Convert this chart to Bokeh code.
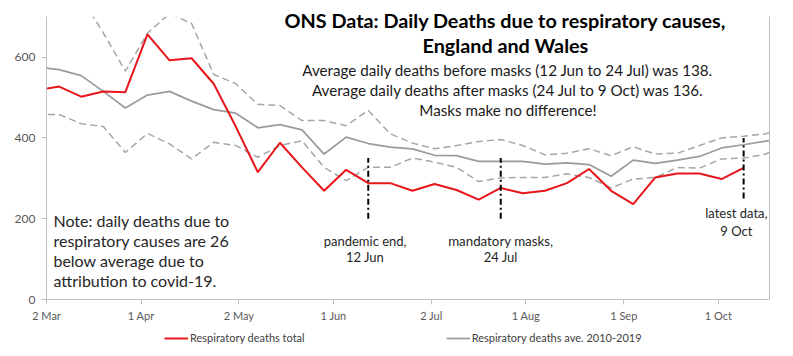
import pandas as pd
from bokeh.plotting import figure
from bokeh.layouts import column
from bokeh.models import (ColumnDataSource, FixedTicker, Label, Legend, LegendItem, Range1d,
                          BoxAnnotation, LinearAxis)
from bokeh.embed import file_html
from bokeh.resources import INLINE

# ---- data (weekly, week ending Fridays, 2020) ----
week_ending = ["2020-02-28", "2020-03-06", "2020-03-13", "2020-03-20", "2020-03-27",
               "2020-04-03", "2020-04-10", "2020-04-17", "2020-04-24", "2020-05-01",
               "2020-05-08", "2020-05-15", "2020-05-22", "2020-05-29", "2020-06-05",
               "2020-06-12", "2020-06-19", "2020-06-26", "2020-07-03", "2020-07-10",
               "2020-07-17", "2020-07-24", "2020-07-31", "2020-08-07", "2020-08-14",
               "2020-08-21", "2020-08-28", "2020-09-04", "2020-09-11", "2020-09-18",
               "2020-09-25", "2020-10-02", "2020-10-09", "2020-10-16", "2020-10-23"]
resp_total = [518, 527, 502, 515, 513, 656, 592, 597, 534, 428,
              315, 388, 327, 269, 321, 288, 288, 269, 286, 271,
              247, 276, 263, 269, 288, 323, 269, 236, 302, 312,
              312, 298, 326, None, None]
resp_ave = [575, 569, 554, 515, 474, 506, 515, 491, 470, 461,
            425, 433, 420, 360, 402, 386, 377, 373, 357, 356,
            342, 342, 342, 335, 338, 334, 305, 345, 337, 345,
            354, 375, 383, 392, 400]
resp_upper = [790, 780, 747, 660, 565, 659, 708, 683, 557, 534,
              483, 480, 443, 443, 430, 468, 410, 387, 373, 381,
              391, 396, 381, 358, 362, 373, 356, 378, 360, 362,
              381, 400, 404, 410, 432]
resp_lower = [458, 458, 435, 428, 364, 411, 385, 348, 389, 381,
              352, 381, 393, 327, 294, 327, 327, 350, 340, 327,
              292, 301, 302, 302, 311, 302, 276, 298, 302, 327,
              325, 348, 350, 360, 385]

tick_dates = ["2020-03-02", "2020-04-01", "2020-05-02", "2020-06-01", "2020-07-02",
              "2020-08-01", "2020-09-01", "2020-10-01"]
tick_labels = ["2 Mar", "1 Apr", "2 May", "1 Jun", "2 Jul", "1 Aug", "1 Sep", "1 Oct"]
y_ticks = [0, 200, 400, 600]
Y_MAX = 700

event_dates = ["2020-06-12", "2020-07-24", "2020-10-09"]
event_top = [350, 350, 400]
event_bottom = [200, 200, 250]

series_names = ["Respiratory deaths total", "Respiratory deaths ave. 2010-2019"]
RED = "#e8161b"
GREY = "#9b9b9b"

origin = pd.Timestamp("2020-03-02")
def day(d):
    return (pd.Timestamp(d) - origin).days

X_END = 229.2
x = [day(d) for d in week_ending]
src = ColumnDataSource(dict(x=x,
                            total=[float("nan") if v is None else v for v in resp_total],
                            ave=resp_ave, upper=resp_upper, lower=resp_lower))

FONT = "Lato"
# frame reaches the canvas top so the title is not clipped; axis lines stop at Y_MAX
p = figure(width=793, height=330, output_backend="svg", toolbar_location=None,
           x_range=Range1d(0, X_END), y_range=Range1d(0, 740),
           min_border_left=46, min_border_right=24, min_border_top=0, min_border_bottom=31)
p.outline_line_color = None
p.grid.visible = False
p.background_fill_color = "white"

p.line("x", "upper", source=src, line_color="#a6a6a6", line_width=1.5, line_dash="7 4")
p.line("x", "lower", source=src, line_color="#a6a6a6", line_width=1.5, line_dash="7 4")
p.line("x", "ave", source=src, line_color=GREY, line_width=1.75)
p.line("x", "total", source=src, line_color=RED, line_width=2)

ev = ColumnDataSource(dict(x=[day(d) for d in event_dates], y0=event_bottom, y1=event_top))
p.segment("x", "y0", "x", "y1", source=ev, line_color="black", line_width=2, line_dash="6 3 2 3")

# mask anything above the plot area top (Y_MAX)
p.add_layout(BoxAnnotation(bottom=Y_MAX, fill_color="white", fill_alpha=1, line_color=None))

# axes
xa = p.xaxis[0]
xa.ticker = FixedTicker(ticks=[day(d) for d in tick_dates])
xa.major_label_overrides = {day(d): l for d, l in zip(tick_dates, tick_labels)}
xa.minor_tick_line_color = None
xa.major_tick_out = 5
xa.major_tick_in = 0
xa.axis_line_color = "#bfbfbf"
xa.major_tick_line_color = "#bfbfbf"
xa.major_label_text_font = FONT
xa.major_label_text_font_size = "11px"
xa.major_label_text_color = "#595959"
xa.major_label_standoff = 4

ya = p.yaxis[0]
ya.ticker = FixedTicker(ticks=y_ticks)
ya.bounds = (0, Y_MAX)
ya.minor_tick_line_color = None
ya.major_tick_out = 5
ya.major_tick_in = 0
ya.axis_line_color = "#bfbfbf"
ya.major_tick_line_color = "#bfbfbf"
ya.major_label_text_font = FONT
ya.major_label_text_font_size = "12px"
ya.major_label_text_color = "#595959"
ya.major_label_standoff = 6

ra = LinearAxis(bounds=(0, Y_MAX), ticker=FixedTicker(ticks=[]), axis_line_color="#bfbfbf",
                major_tick_line_color=None, minor_tick_line_color=None,
                major_label_text_font_size="0px", major_label_standoff=0,
                major_tick_out=0, major_tick_in=0)
p.add_layout(ra, "right")

def lab(xv, yv, text, size, bold=False, align="center", color="#1a1a1a"):
    p.add_layout(Label(x=xv, y=yv, text=text, text_font=FONT, text_font_size=size,
                       text_font_style="bold" if bold else "normal", text_align=align,
                       text_baseline="alphabetic", text_color=color))

# title and subtitles
lab(145.5, 692, "ONS Data: Daily Deaths due to respiratory causes,", "19.8px", bold=True, color="black")
lab(145.5, 630, "England and Wales", "19.8px", bold=True, color="black")
lab(146.3, 568, "Average daily deaths before masks (12 Jun to 24 Jul) was 138.", "15.2px")
lab(146.3, 518, "Average daily deaths after masks (24 Jul to 9 Oct) was 136.", "15.2px")
lab(146.3, 468, "Masks make no difference!", "15.2px")

# note
for i, t in enumerate(["Note: daily deaths due to", "respiratory causes are 26",
                       "below average due to", "attribution to covid-19."]):
    lab(2.2, 196 - i * 49.5, t, "16px", align="left", color="#262626")

# event labels
lab(day("2020-06-12") - 1, 146, "pandemic end,", "13px", color="#262626")
lab(day("2020-06-12") - 1, 105, "12 Jun", "13px", color="#262626")
lab(day("2020-07-24"), 146, "mandatory masks,", "13.3px", color="#262626")
lab(day("2020-07-24"), 105, "24 Jul", "13px", color="#262626")
lab(day("2020-10-09") - 2.3, 213, "latest data,", "13px", color="#262626")
lab(day("2020-10-09") - 2.3, 169, "9 Oct", "13px", color="#262626")

# legend strip below the chart (its frame is aligned with the chart frame)
q = figure(width=793, height=26, output_backend="svg", toolbar_location=None,
           x_range=Range1d(0, 1), y_range=Range1d(0, 1),
           min_border_left=0, min_border_right=0, min_border_top=0, min_border_bottom=0)
q.axis.visible = False
q.grid.visible = False
q.outline_line_color = None
l_tot = q.line(x=[5, 6], y=[5, 6], line_color=RED, line_width=2)
l_ave = q.line(x=[5, 6], y=[5, 6], line_color=GREY, line_width=1.75)
legend = Legend(items=[LegendItem(label=series_names[0], renderers=[l_tot]),
                       LegendItem(label=series_names[1], renderers=[l_ave])],
                orientation="horizontal", location=(118, 12),
                glyph_width=24, glyph_height=12, label_height=12, label_standoff=2, spacing=141,
                padding=0, margin=0, border_line_color=None, background_fill_alpha=0,
                label_text_font=FONT, label_text_font_size="11px", label_text_color="#404040")
q.add_layout(legend, "center")

open("out.html", "w").write(file_html(column(p, q, spacing=0), INLINE))
